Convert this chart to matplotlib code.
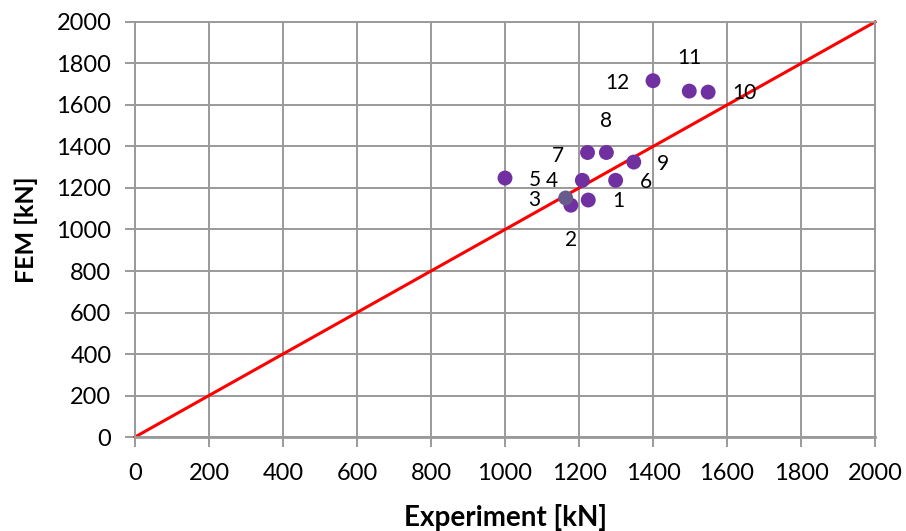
import matplotlib
matplotlib.use("Agg")
import matplotlib.pyplot as plt

# Specimen results: experimental vs. FEM ultimate load
specimen_ids = ["1", "2", "3", "4", "5", "6", "7", "8", "9", "10", "11", "12"]
experiment_kn = [1225, 1178, 1164, 1209, 1000, 1299, 1223, 1274, 1348, 1549, 1498, 1400]
fem_kn = [1142, 1117, 1152, 1237, 1248, 1237, 1371, 1371, 1325, 1662, 1667, 1717]
point_colors = ["#7030A0"] * 12
point_colors[2] = "#675A8C"

axis_ticks = list(range(0, 2001, 200))
equality_line = [0, 2000]

# label offsets in pixels (dx, dy) relative to each marker
label_offsets = [(30, -1), (0, -35), (-31, -2), (-30, -1), (30, -2), (30, -2),
                 (-30, -3), (0, 32), (29, -2), (36, -1), (0, 33), (-36, -2)]

plt.rcParams["font.family"] = ["Lato", "DejaVu Sans"]

fig = plt.figure(figsize=(9.06, 5.31), dpi=100)
ax = fig.add_axes([0.149, 0.177, 0.8168, 0.7816])

grid_c = "#9A9A9A"
ax.set_xlim(0, 2000)
ax.set_ylim(0, 2000)
ax.set_xticks(axis_ticks)
ax.set_yticks(axis_ticks)
ax.grid(True, color=grid_c, linewidth=1.4)
ax.set_axisbelow(True)
for s in ax.spines.values():
    s.set_color(grid_c)
    s.set_linewidth(1.4)
ax.spines["bottom"].set_linewidth(2.0)
ax.tick_params(axis="both", direction="out", length=7, width=1.4, color=grid_c,
               labelsize=17, labelcolor="black", pad=10)
ax.tick_params(axis="x", pad=12)

ax.plot(equality_line, equality_line, color="#FF0000", linewidth=2.2, zorder=2,
        clip_on=False)
ax.scatter(experiment_kn, fem_kn, s=115, c=point_colors, zorder=3, linewidths=0)

for sid, x, y, (dx, dy) in zip(specimen_ids, experiment_kn, fem_kn, label_offsets):
    ax.annotate(sid, (x, y), xytext=(dx, dy), textcoords="offset pixels",
                ha="center", va="center", fontsize=15, color="black")

ax.set_xlabel("Experiment [kN]", fontsize=20, fontweight="bold", labelpad=14)
ax.set_ylabel("FEM [kN]", fontsize=18, fontweight="bold", labelpad=13)

fig.savefig("out.png", dpi=100)
